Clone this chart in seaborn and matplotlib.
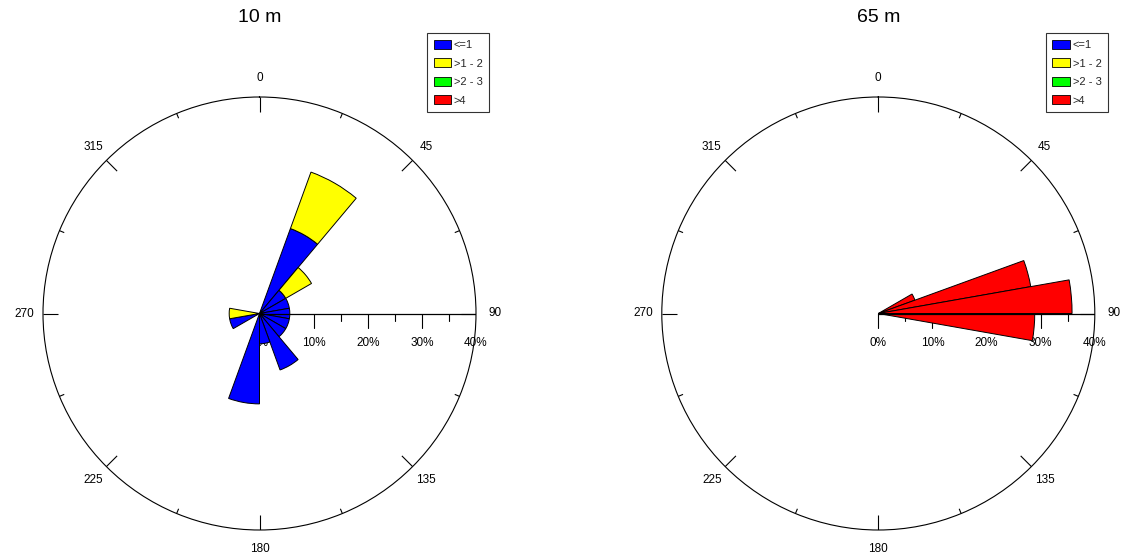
import numpy as np
import matplotlib
matplotlib.use("Agg")
import matplotlib.pyplot as plt
from matplotlib.patches import Patch
import seaborn as sns

sns.set_theme(style="white")
plt.rcParams['font.family'] = ['Liberation Sans', 'DejaVu Sans']

# ---------------- data ----------------
speed_bins = ["<=1", ">1 - 2", ">2 - 3", ">4"]
bin_colors = ["#0000ff", "#ffff00", "#00ff00", "#ff0000"]

titles = ["10 m", "65 m"]

# 10 m : 20-degree sectors (centre direction), frequencies in %
dir_10 = [30, 50, 70, 90, 110, 130, 150, 170, 190, 250, 270]
low_10 = [16.7, 5.6, 5.6, 5.6, 5.6, 5.6, 11.1, 5.6, 16.7, 5.6, 0.0]   # <=1
mid_10 = [11.1, 5.5, 0.0, 0.0, 0.0, 0.0, 0.0, 0.0, 0.0, 0.0, 5.6]     # >1 - 2
width_10 = 20

# 65 m : 10-degree sectors, all in the >4 class
dir_65 = [65, 75, 85, 95]
high_65 = [7.2, 28.6, 35.8, 28.9]
width_65 = 10

rmax = 40
radial_ticks = [0, 10, 20, 30, 40]
radial_minor = [5, 15, 25, 35]
angle_labels = [0, 45, 90, 135, 180, 225, 270, 315]

# ---------------- figure ----------------
W, H = 1121, 556
fig = plt.figure(figsize=(W / 100, H / 100), dpi=100)

centers = [(259.5, 313.5), (878.3, 313.5)]
R = 216.5


def rose(cx, cy, stacks, dirs, width, title):
    rect = [(cx - R) / W, (H - cy - R) / H, 2 * R / W, 2 * R / H]
    # decorations underneath the bars
    axu = fig.add_axes(rect, zorder=0)
    axu.set_xlim(-rmax, rmax)
    axu.set_ylim(-rmax, rmax)
    axu.set_aspect("equal")
    axu.axis("off")
    for a in np.arange(0, 360, 22.5):
        L = 2.8 if a % 45 == 0 else 0.95
        s, c = np.sin(np.deg2rad(a)), np.cos(np.deg2rad(a))
        axu.plot([(rmax - L) * s, rmax * s], [(rmax - L) * c, rmax * c],
                 color="black", lw=0.8, solid_capstyle="butt")
    for a in angle_labels:
        s, c = np.sin(np.deg2rad(a)), np.cos(np.deg2rad(a))
        axu.text(43.5 * s, 43.5 * c, str(a), ha="center", va="center",
                 fontsize=8.5, color="black", clip_on=False)
    for v in radial_ticks:
        axu.plot([v, v], [0, -2.7], color="black", lw=0.8)
        axu.text(v, -5.5, f"{v}%", ha="center", va="center",
                 fontsize=8.5, color="black")
    for v in radial_minor:
        axu.plot([v, v], [0, -1.4], color="black", lw=0.8)

    # polar axes with the bars
    axp = fig.add_axes(rect, projection="polar", zorder=1)
    axp.set_theta_zero_location("N")
    axp.set_theta_direction(-1)
    axp.set_ylim(0, rmax)
    axp.set_xticks([])
    axp.set_yticks([])
    axp.grid(False)
    axp.patch.set_alpha(0)
    axp.spines["polar"].set_color("black")
    axp.spines["polar"].set_linewidth(0.8)
    theta = np.deg2rad(dirs)
    bottom = np.zeros(len(dirs))
    for vals, col in stacks:
        vals = np.asarray(vals, dtype=float)
        m = vals > 0
        axp.bar(theta[m], vals[m], width=np.deg2rad(width), bottom=bottom[m],
                color=col, edgecolor="black", linewidth=0.7, align="center")
        bottom = bottom + vals
    axp.plot([np.pi / 2, np.pi / 2], [0, rmax], color="black", lw=0.9)

    fig.text(cx / W, 1 - 17.5 / H, title, ha="center", va="center",
             fontsize=14, color="black")

    handles = [Patch(facecolor=c, edgecolor="black", linewidth=0.6)
               for c in bin_colors]
    leg = fig.legend(handles, speed_bins, loc="upper left",
                     bbox_to_anchor=((cx + 167.5) / W, 1 - 33 / H),
                     fontsize=8, frameon=True, fancybox=False,
                     handlelength=1.6, handleheight=0.85, handletextpad=0.22,
                     labelspacing=0.75, borderpad=0.6, borderaxespad=0)
    leg.get_frame().set_edgecolor("black")
    leg.get_frame().set_linewidth(0.8)


rose(*centers[0], [(low_10, bin_colors[0]), (mid_10, bin_colors[1])],
     dir_10, width_10, titles[0])
rose(*centers[1], [(high_65, bin_colors[3])], dir_65, width_65, titles[1])

fig.savefig("out.png", dpi=100, facecolor="white")
